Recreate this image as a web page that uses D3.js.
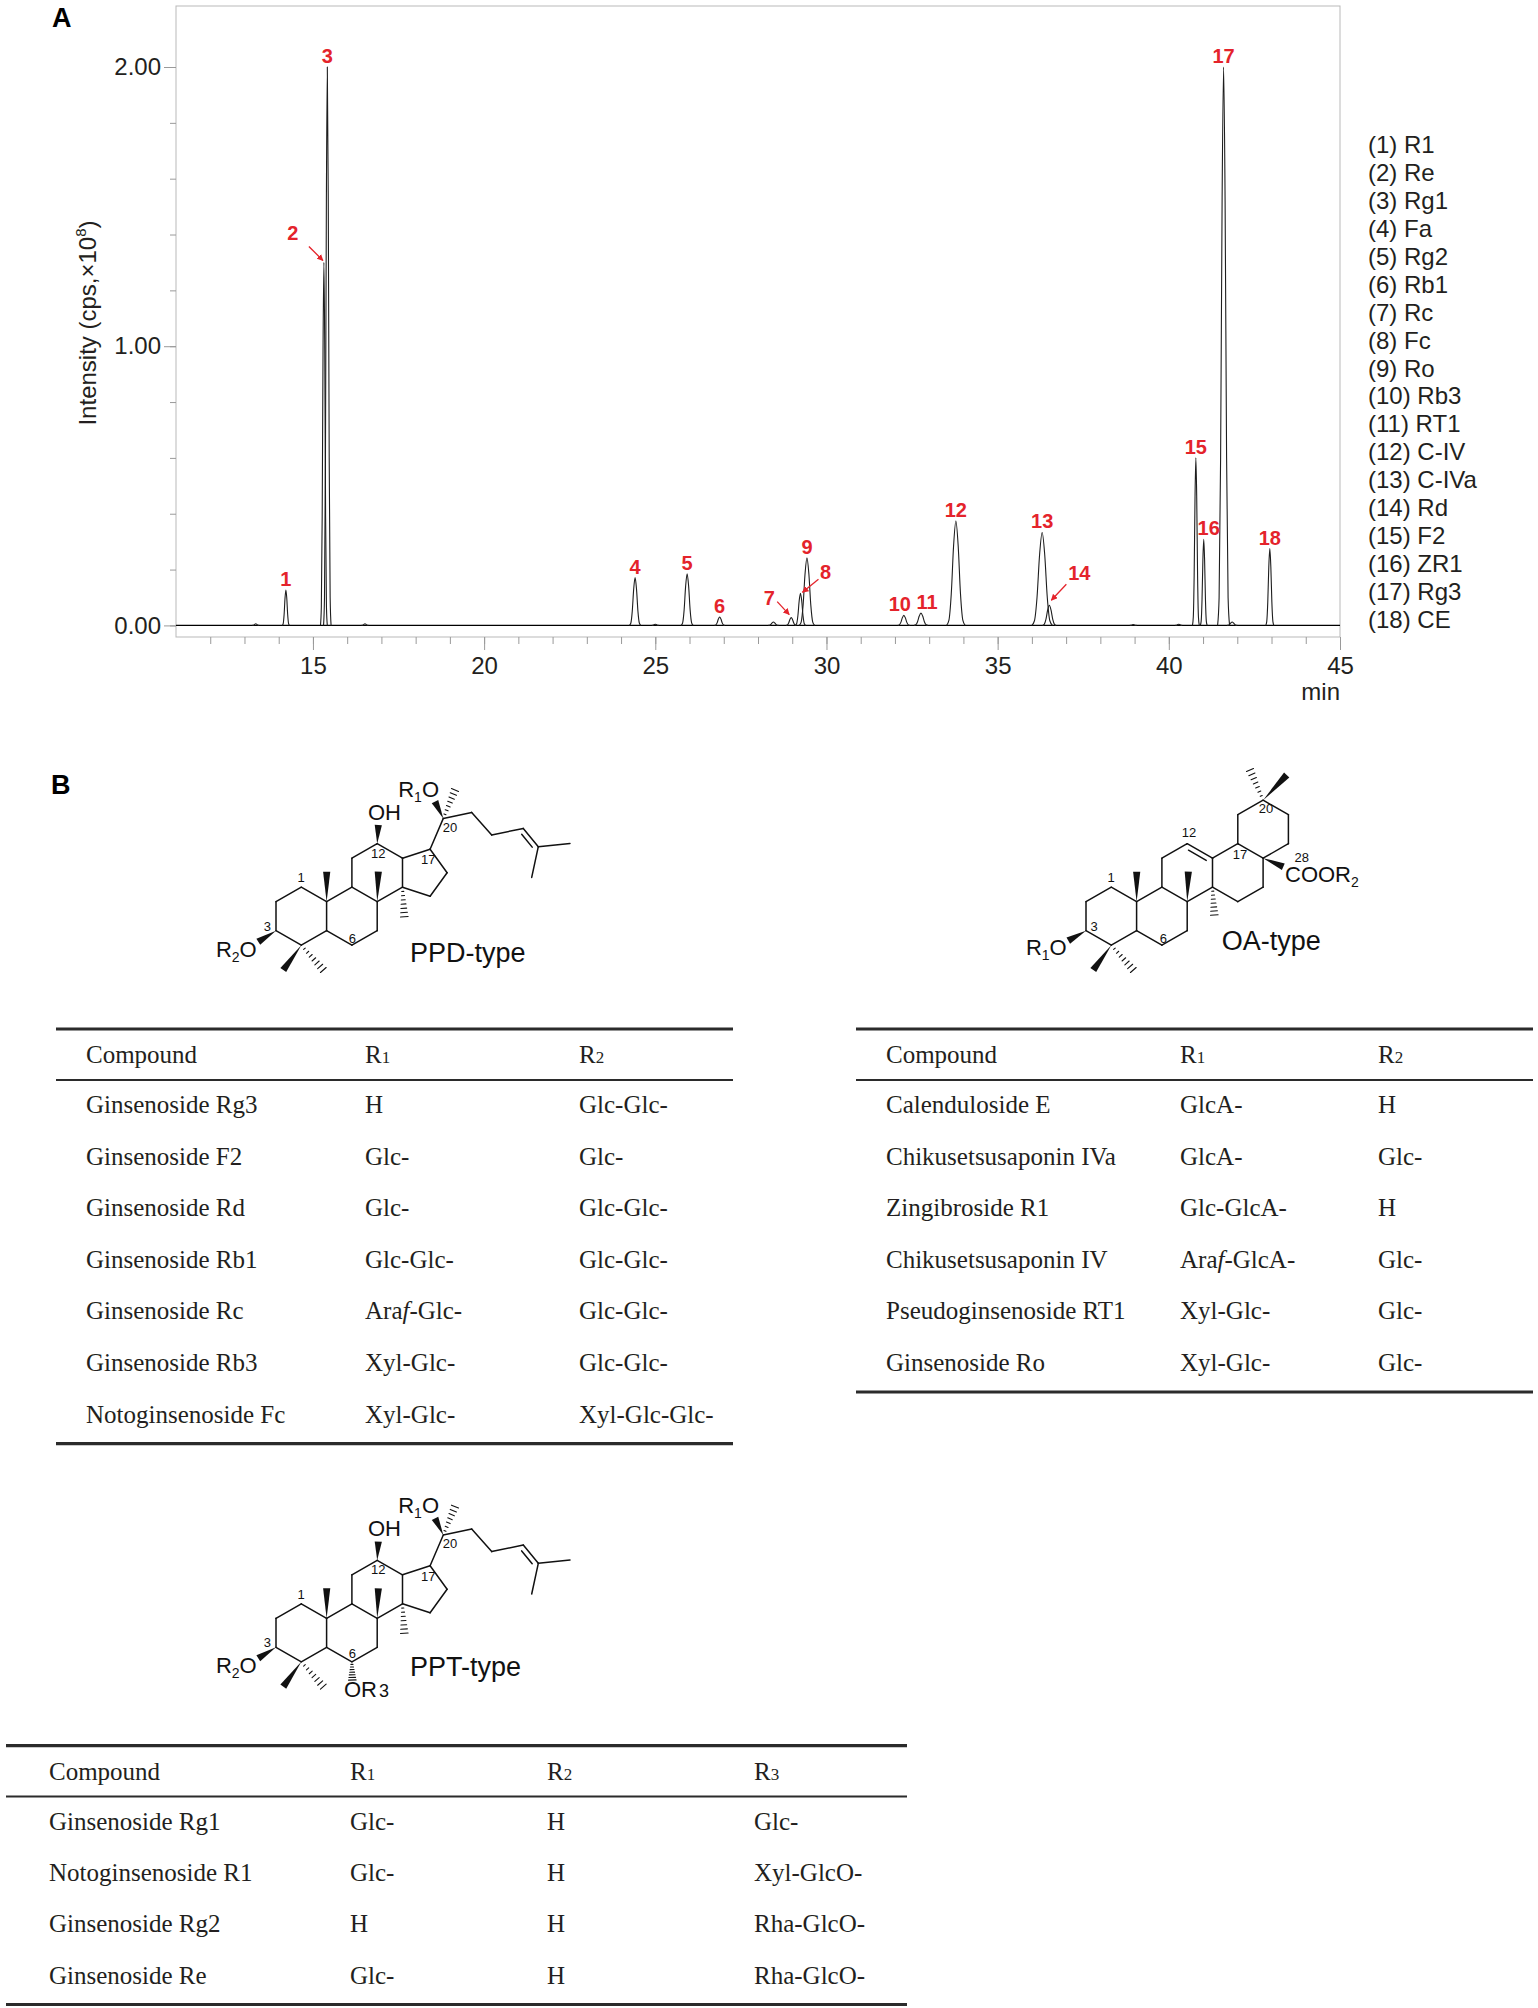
<!DOCTYPE html>
<html>
<head>
<meta charset="utf-8">
<script src="https://cdn.jsdelivr.net/npm/d3@7"></script>
<style>
  body { margin: 0; background: #fff; }
  svg { display: block; }
</style>
</head>
<body>
<svg id="fig" width="1538" height="2008"></svg>
<script>
// ---------- data ----------
const peakNo = d3.range(1, 19);
const compoundNames = ["R1", "Re", "Rg1", "Fa", "Rg2", "Rb1", "Rc", "Fc", "Ro",
  "Rb3", "RT1", "C-IV", "C-IVa", "Rd", "F2", "ZR1", "Rg3", "CE"];
// retention time (min), apex intensity (cps x 1e8), base width (min)
const peakTime   = [14.21, 15.32, 15.42, 24.41, 25.93, 26.88, 28.97, 29.24, 29.43,
  32.26, 32.76, 33.78, 36.30, 36.51, 40.79, 41.02, 41.60, 42.95];
const peakHeight = [0.127, 1.30, 2.00, 0.171, 0.185, 0.030, 0.028, 0.115, 0.242,
  0.036, 0.044, 0.374, 0.333, 0.072, 0.600, 0.308, 2.00, 0.275];
const peakWidth  = [0.21, 0.20, 0.22, 0.33, 0.35, 0.30, 0.30, 0.30, 0.45,
  0.35, 0.40, 0.54, 0.60, 0.40, 0.20, 0.20, 0.35, 0.24];
// small unlabelled bumps on the baseline
const minorTime   = [13.33, 16.52, 25.00, 28.45, 38.96, 40.29, 41.85];
const minorHeight = [0.006, 0.006, 0.004, 0.012, 0.003, 0.004, 0.012];
const minorWidth  = [0.20, 0.20, 0.20, 0.30, 0.20, 0.20, 0.30];

const xMajorTicks = [15, 20, 25, 30, 35, 40, 45];
const xMinorTicks = d3.range(12, 46);
const yMajorTicks = [0, 1, 2];
const yMinorTicks = [0, 0.2, 0.4, 0.6, 0.8, 1, 1.2, 1.4, 1.6, 1.8, 2];

const ppdHeader = ["Compound", "R1", "R2"];
const ppdRows = [
  ["Ginsenoside Rg3", "H", "Glc-Glc-"],
  ["Ginsenoside F2", "Glc-", "Glc-"],
  ["Ginsenoside Rd", "Glc-", "Glc-Glc-"],
  ["Ginsenoside Rb1", "Glc-Glc-", "Glc-Glc-"],
  ["Ginsenoside Rc", "Araf-Glc-", "Glc-Glc-"],
  ["Ginsenoside Rb3", "Xyl-Glc-", "Glc-Glc-"],
  ["Notoginsenoside Fc", "Xyl-Glc-", "Xyl-Glc-Glc-"]
];
const oaHeader = ["Compound", "R1", "R2"];
const oaRows = [
  ["Calenduloside E", "GlcA-", "H"],
  ["Chikusetsusaponin IVa", "GlcA-", "Glc-"],
  ["Zingibroside R1", "Glc-GlcA-", "H"],
  ["Chikusetsusaponin IV", "Araf-GlcA-", "Glc-"],
  ["Pseudoginsenoside RT1", "Xyl-Glc-", "Glc-"],
  ["Ginsenoside Ro", "Xyl-Glc-", "Glc-"]
];
const pptHeader = ["Compound", "R1", "R2", "R3"];
const pptRows = [
  ["Ginsenoside Rg1", "Glc-", "H", "Glc-"],
  ["Notoginsenoside R1", "Glc-", "H", "Xyl-GlcO-"],
  ["Ginsenoside Rg2", "H", "H", "Rha-GlcO-"],
  ["Ginsenoside Re", "Glc-", "H", "Rha-GlcO-"]
];

// ---------- styles ----------
const SANS = "'Liberation Sans', Arial, Helvetica, sans-serif";
const SERIF = "'Liberation Serif', 'Times New Roman', serif";
const RED = "#e4232b";
const INK = "#231f20";

const svg = d3.select("#fig");

// ---------- panel A: chromatogram ----------
const frame = { left: 176, right: 1340, top: 6, bottom: 637 };
const x = d3.scaleLinear().domain([11, 45]).range([frame.left, frame.right]);
const y = d3.scaleLinear().domain([-0.0415, 2.2185]).range([frame.bottom, frame.top]);

const gA = svg.append("g");

gA.append("text")
  .attr("x", 52).attr("y", 27)
  .attr("font-family", SANS).attr("font-weight", "bold").attr("font-size", 27)
  .attr("fill", "#000").text("A");

gA.append("rect")
  .attr("x", frame.left).attr("y", frame.top)
  .attr("width", frame.right - frame.left).attr("height", frame.bottom - frame.top)
  .attr("fill", "none").attr("stroke", "#b9b9b9").attr("stroke-width", 1);

function styleAxis(g) {
  g.select(".domain").remove();
  g.selectAll(".tick line").attr("stroke", "#9a9a9a");
  g.selectAll(".tick text")
    .attr("font-family", SANS).attr("font-size", 24).attr("fill", INK);
}

gA.append("g").attr("transform", `translate(${frame.left},0)`)
  .call(d3.axisLeft(y).tickValues(yMinorTicks).tickSize(6).tickFormat(""))
  .call(styleAxis);
gA.append("g").attr("transform", `translate(${frame.left},0)`)
  .call(d3.axisLeft(y).tickValues(yMajorTicks).tickSize(12).tickPadding(3)
    .tickFormat(d3.format(".2f")))
  .call(styleAxis);

gA.append("g").attr("transform", `translate(0,${frame.bottom})`)
  .call(d3.axisBottom(x).tickValues(xMinorTicks).tickSize(7).tickFormat(""))
  .call(styleAxis);
gA.append("g").attr("transform", `translate(0,${frame.bottom})`)
  .call(d3.axisBottom(x).tickValues(xMajorTicks).tickSize(13).tickPadding(7)
    .tickFormat(d3.format("d")))
  .call(styleAxis);

gA.append("text")
  .attr("x", frame.right).attr("y", 700)
  .attr("text-anchor", "end")
  .attr("font-family", SANS).attr("font-size", 24).attr("fill", INK)
  .text("min");

const yTitle = gA.append("text")
  .attr("transform", "translate(96,323) rotate(-90)")
  .attr("text-anchor", "middle")
  .attr("font-family", SANS).attr("font-size", 24).attr("fill", INK);
yTitle.append("tspan").text("Intensity (cps,×10");
yTitle.append("tspan").attr("font-size", 15).attr("dy", -10).text("8");
yTitle.append("tspan").attr("dy", 10).text(")");

// peak profile used as the glyph for every trace (relative half-width, relative height)
const PROFILE = [[-1, 0], [-0.75, 0.05], [-0.5, 0.3], [-0.25, 0.76], [0, 1],
  [0.25, 0.76], [0.5, 0.3], [0.75, 0.05], [1, 0]];
const trace = d3.line().x(d => x(d[0])).y(d => y(d[1])).curve(d3.curveMonotoneX);
const peakPoints = (t, h, w) => PROFILE.map(([u, v]) => [t + u * w / 2, v * h]);

const peaks = peakNo.map((n, i) => ({
  n, name: compoundNames[i], t: peakTime[i], h: peakHeight[i], w: peakWidth[i]
}));
const minors = minorTime.map((t, i) => ({ t, h: minorHeight[i], w: minorWidth[i] }));

const gTrace = gA.append("g").attr("fill", "none").attr("stroke", "#1e1e1e")
  .attr("stroke-width", 1.1);

gTrace.append("path")
  .attr("d", trace([[11, 0], [45, 0]]))
  .attr("stroke", "#000").attr("stroke-width", 1.3);

gTrace.selectAll("path.minor").data(minors).join("path")
  .attr("class", "minor")
  .attr("d", d => trace(peakPoints(d.t, d.h, d.w)));

gTrace.selectAll("path.peak").data(peaks).join("path")
  .attr("class", "peak")
  .attr("d", d => trace(peakPoints(d.t, d.h, d.w)));

// label placement: most sit just above the apex, a few are called out with an arrow
const labelNudge = { 10: [-4, 0], 11: [6, 0], 16: [5, 0] };
const callout = {
  2:  { label: [-31, -22], from: [-15, -16], to: [-1, -2] },
  7:  { label: [-22, -13], from: [-14, -16], to: [-2, -3] },
  8:  { label: [25, -14], from: [18, -14], to: [2, -1] },
  14: { label: [30, -25], from: [17, -21], to: [2, -5] }
};

svg.append("defs").append("marker")
  .attr("id", "arrowRed").attr("viewBox", "0 0 10 10")
  .attr("refX", 9).attr("refY", 5)
  .attr("markerWidth", 5).attr("markerHeight", 5)
  .attr("orient", "auto-start-reverse")
  .append("path").attr("d", "M0,0 L10,5 L0,10 z").attr("fill", RED);

const gLab = gA.append("g")
  .attr("font-family", SANS).attr("font-weight", "bold").attr("font-size", 20)
  .attr("fill", RED).attr("text-anchor", "middle");

peaks.forEach(p => {
  const px = x(p.t), py = y(p.h);
  const c = callout[p.n];
  if (c) {
    gLab.append("text").attr("x", px + c.label[0]).attr("y", py + c.label[1]).text(p.n);
    gLab.append("line")
      .attr("x1", px + c.from[0]).attr("y1", py + c.from[1])
      .attr("x2", px + c.to[0]).attr("y2", py + c.to[1])
      .attr("stroke", RED).attr("stroke-width", 1.3)
      .attr("marker-end", "url(#arrowRed)");
  } else {
    const nd = labelNudge[p.n] || [0, 0];
    gLab.append("text").attr("x", px + nd[0]).attr("y", py - 4 + nd[1]).text(p.n);
  }
});

// legend
const legendY = d3.scalePoint().domain(peakNo).range([153, 628]);
gA.append("g")
  .attr("font-family", SANS).attr("font-size", 24).attr("fill", INK)
  .selectAll("text").data(peaks).join("text")
  .attr("x", 1368).attr("y", d => legendY(d.n))
  .text(d => `(${d.n}) ${d.name}`);

// ---------- panel B: structures ----------
svg.append("text")
  .attr("x", 51).attr("y", 794)
  .attr("font-family", SANS).attr("font-weight", "bold").attr("font-size", 27)
  .attr("fill", "#000").text("B");

const DX = 25.3, DY = 14.5;
const gp = (i, j) => [i * DX, j * DY];
const add = (a, b) => [a[0] + b[0], a[1] + b[1]];

const steroidCore = {
  C1: gp(1, -1), C2: gp(0, 0), C3: gp(0, 2), C4: gp(1, 3), C5: gp(2, 2), C6: gp(3, 3),
  C7: gp(4, 2), C8: gp(4, 0), C9: gp(3, -1), C10: gp(2, 0), C11: gp(3, -3),
  C12: gp(4, -4), C13: gp(5, -3), C14: gp(5, -1)
};
const coreBonds = [["C1", "C2"], ["C2", "C3"], ["C3", "C4"], ["C4", "C5"], ["C5", "C10"],
  ["C10", "C1"], ["C5", "C6"], ["C6", "C7"], ["C7", "C8"], ["C8", "C9"], ["C9", "C10"],
  ["C9", "C11"], ["C11", "C12"], ["C12", "C13"], ["C13", "C14"], ["C14", "C8"]];

function dammarane() {
  const A = Object.assign({}, steroidCore);
  const mid = gp(5, -2);
  A.C15 = add(mid, [27.6, 23.5]);
  A.C16 = add(mid, [44.6, 0]);
  A.C17 = add(mid, [27.6, -23.5]);
  Object.assign(A, {
    C20: [167.3, -83.3], C22: [195.7, -89.3], C23: [215.7, -66.7], C24: [247.3, -73.3],
    C25: [262.3, -55], C26: [294, -58.3], C27: [255.7, -24.3],
    C21: [179, -111.7], O20: [159, -100], O12: [102.3, -76.7],
    M10: [50.7, -30], M8: [102.3, -30], M14: [128.3, 15],
    M4a: [7.3, 68.3], M4b: [47.3, 68.3], O3: [-17.7, 40]
  });
  return {
    atoms: A,
    bonds: coreBonds.concat([["C14", "C15"], ["C15", "C16"], ["C16", "C17"], ["C17", "C13"],
      ["C17", "C20"], ["C20", "C22"], ["C22", "C23"], ["C23", "C24"], ["C24", "C25"],
      ["C25", "C26"], ["C25", "C27"]]),
    doubles: [["C24", "C25", [-1, 1]]],
    wedges: [["C20", "O20"], ["C12", "O12"], ["C10", "M10"], ["C8", "M8"], ["C4", "M4a"], ["C3", "O3"]],
    hashes: [["C20", "C21"], ["C14", "M14"], ["C4", "M4b"]]
  };
}

function oleanane() {
  const A = Object.assign({}, steroidCore, {
    C18: gp(6, -4), C17: gp(7, -3), C16: gp(7, -1), C15: gp(6, 0),
    C19: gp(6, -6), C20: gp(7, -7), C21: gp(8, -6), C22: gp(8, -4),
    M20a: [200.7, -126.7], M20b: [164, -131.7], C28: [197.3, -35],
    M10: [50.7, -30], M8: [102.3, -30], M14: [128.3, 13.3],
    M4a: [7.3, 68.3], M4b: [47.3, 68.3], O3: [-17.7, 39]
  });
  return {
    atoms: A,
    bonds: coreBonds.concat([["C13", "C18"], ["C18", "C17"], ["C17", "C16"], ["C16", "C15"],
      ["C15", "C14"], ["C18", "C19"], ["C19", "C20"], ["C20", "C21"], ["C21", "C22"], ["C22", "C17"]]),
    doubles: [["C12", "C13", [0, 1]]],
    wedges: [["C20", "M20a"], ["C17", "C28"], ["C10", "M10"], ["C8", "M8"], ["C4", "M4a"], ["C3", "O3"]],
    hashes: [["C20", "M20b"], ["C14", "M14"], ["C4", "M4b"]]
  };
}

function drawSkeleton(origin, mol, texts) {
  const g = svg.append("g").attr("transform", `translate(${origin[0]},${origin[1]})`);
  const P = mol.atoms;
  const gb = g.append("g").attr("stroke", "#111").attr("stroke-width", 1.5)
    .attr("stroke-linecap", "round").attr("fill", "none");
  mol.bonds.forEach(([a, b]) => {
    gb.append("line").attr("x1", P[a][0]).attr("y1", P[a][1])
      .attr("x2", P[b][0]).attr("y2", P[b][1]);
  });
  mol.doubles.forEach(([a, b, side]) => {
    const [x1, y1] = P[a], [x2, y2] = P[b];
    const dx = x2 - x1, dy = y2 - y1, len = Math.hypot(dx, dy);
    let nx = -dy / len, ny = dx / len;
    if (nx * side[0] + ny * side[1] < 0) { nx = -nx; ny = -ny; }
    const off = 5, s = 0.15;
    gb.append("line")
      .attr("x1", x1 + dx * s + nx * off).attr("y1", y1 + dy * s + ny * off)
      .attr("x2", x2 - dx * s + nx * off).attr("y2", y2 - dy * s + ny * off);
  });
  mol.wedges.forEach(([a, b]) => {
    const [x1, y1] = P[a], [x2, y2] = P[b];
    const dx = x2 - x1, dy = y2 - y1, len = Math.hypot(dx, dy);
    const nx = -dy / len * 3.6, ny = dx / len * 3.6;
    g.append("path")
      .attr("d", `M${x1},${y1} L${x2 + nx},${y2 + ny} L${x2 - nx},${y2 - ny} Z`)
      .attr("fill", "#111");
  });
  mol.hashes.forEach(([a, b]) => {
    const [x1, y1] = P[a], [x2, y2] = P[b];
    const dx = x2 - x1, dy = y2 - y1, len = Math.hypot(dx, dy);
    const ux = -dy / len, uy = dx / len;
    const n = 7;
    for (let k = 1; k <= n; k++) {
      const f = k / n, cx = x1 + dx * f, cy = y1 + dy * f, hw = 0.6 + 3.2 * f;
      gb.append("line").attr("stroke-width", 1.1)
        .attr("x1", cx - ux * hw).attr("y1", cy - uy * hw)
        .attr("x2", cx + ux * hw).attr("y2", cy + uy * hw);
    }
  });
  const gt = g.append("g").attr("font-family", SANS).attr("fill", "#111");
  texts.forEach(t => {
    const el = gt.append("text").attr("x", t.at[0]).attr("y", t.at[1])
      .attr("font-size", t.size || 22)
      .attr("text-anchor", t.anchor || "start");
    if (t.small) el.attr("dominant-baseline", "central");
    t.parts.forEach(([s, kind]) => {
      const sp = el.append("tspan").text(s);
      if (kind === "sub") sp.attr("font-size", 14).attr("dy", 5);
      if (kind === "after") sp.attr("dy", -5);
      if (kind === "small") sp.attr("font-size", 18).attr("dx", 2);
    });
  });
  return g;
}

const loc = (s, at) => ({ parts: [[s]], at, size: 13, anchor: "middle", small: true });

const ppd = dammarane();
drawSkeleton([276, 901.7], ppd, [
  { parts: [["R"], ["1", "sub"], ["O", "after"]], at: [163, -105], anchor: "end" },
  { parts: [["OH"]], at: [92, -82] },
  { parts: [["R"], ["2", "sub"], ["O", "after"]], at: [-19.3, 55], anchor: "end" },
  { parts: [["PPD-type"]], at: [134, 60.7], size: 27 },
  loc("1", [25, -24.3]), loc("3", [-8.7, 24]), loc("6", [76.3, 36.7]),
  loc("12", [102.3, -49]), loc("17", [152.3, -42.3]), loc("20", [174, -75])
]);

const ppt = dammarane();
ppt.atoms.O6 = [76.3, 61.7];
ppt.hashes.push(["C6", "O6"]);
drawSkeleton([276, 1618.3], ppt, [
  { parts: [["R"], ["1", "sub"], ["O", "after"]], at: [163, -105], anchor: "end" },
  { parts: [["OH"]], at: [92, -82] },
  { parts: [["R"], ["2", "sub"], ["O", "after"]], at: [-19.3, 55], anchor: "end" },
  { parts: [["OR"], ["3", "small"]], at: [68, 79] },
  { parts: [["PPT-type"]], at: [134, 57.3], size: 27 },
  loc("1", [25, -24.3]), loc("3", [-8.7, 24]), loc("6", [76.3, 35]),
  loc("12", [102.3, -49]), loc("17", [152.3, -42.3]), loc("20", [174, -75])
]);

const oa = oleanane();
drawSkeleton([1086, 901.7], oa, [
  { parts: [["COOR"], ["2", "sub"]], at: [199, -20] },
  { parts: [["R"], ["1", "sub"], ["O", "after"]], at: [-19.3, 53.3], anchor: "end" },
  { parts: [["OA-type"]], at: [135.7, 48.3], size: 27 },
  loc("1", [25, -24.3]), loc("3", [8, 24.3]), loc("6", [77.3, 36.7]),
  loc("12", [103, -70]), loc("17", [154, -47.7]), loc("20", [180, -93.3]),
  loc("28", [215.7, -45])
]);

// ---------- tables ----------
function cellText(sel, str) {
  const m = str.match(/^(Ara)(f)(.*)$/);
  if (m) {
    sel.append("tspan").text(m[1]);
    sel.append("tspan").attr("font-style", "italic").text(m[2]);
    sel.append("tspan").text(m[3]);
  } else {
    sel.text(str);
  }
}

function drawTable({ x1, x2, top, cols, header, rows, step }) {
  const g = svg.append("g").attr("font-family", SERIF).attr("font-size", 25).attr("fill", INK);
  const headLine = top + 51, firstRow = top + 76;
  const rowY = d3.scaleLinear().domain([0, 1]).range([firstRow, firstRow + step]);
  const bottom = rowY(rows.length - 1) + 29;
  const rule = (yy, w) => g.append("line").attr("x1", x1).attr("x2", x2)
    .attr("y1", yy).attr("y2", yy).attr("stroke", "#2b2b2b").attr("stroke-width", w);
  rule(top, 3.2); rule(headLine, 2); rule(bottom, 3.2);
  header.forEach((h, k) => {
    const t = g.append("text").attr("x", cols[k]).attr("y", top + 34);
    const m = h.match(/^R(\d)$/);
    if (m) {
      t.append("tspan").text("R");
      t.append("tspan").attr("font-size", 17).text(m[1]);
    } else {
      t.text(h);
    }
  });
  rows.forEach((r, i) => {
    r.forEach((c, k) => {
      g.append("text").attr("x", cols[k]).attr("y", rowY(i) + 8).call(cellText, c);
    });
  });
}

drawTable({ x1: 56, x2: 733, top: 1029, cols: [86, 365, 579], header: ppdHeader, rows: ppdRows, step: 51.6 });
drawTable({ x1: 856, x2: 1533, top: 1029, cols: [886, 1180, 1378], header: oaHeader, rows: oaRows, step: 51.6 });
drawTable({ x1: 6, x2: 907, top: 1745.6, cols: [49, 350, 547, 754], header: pptHeader, rows: pptRows, step: 51.3 });
</script>
</body>
</html>
